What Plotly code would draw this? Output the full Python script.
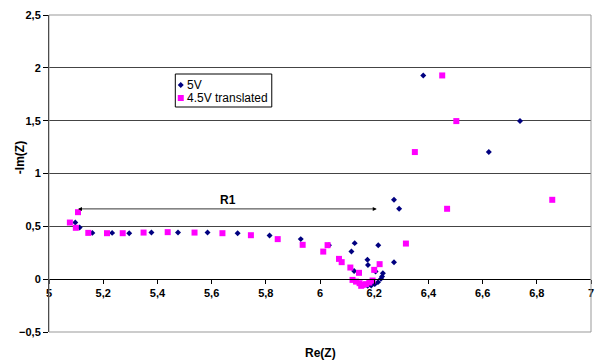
import plotly.graph_objects as go

# 5V series (blue diamonds)
re_5v = [5.097, 5.113, 5.160, 5.233, 5.296, 5.378, 5.476, 5.585, 5.696, 5.814,
         5.929, 6.033, 6.116, 6.128, 6.215, 6.175, 6.177, 6.126, 6.205, 6.232,
         6.229, 6.225, 6.214, 6.202, 6.189, 6.176, 6.273, 6.273, 6.292, 6.381,
         6.623, 6.738]
im_5v = [0.536, 0.489, 0.438, 0.438, 0.435, 0.441, 0.441, 0.441, 0.435, 0.413,
         0.379, 0.322, 0.261, 0.341, 0.322, 0.183, 0.135, 0.078, 0.072, 0.057,
         0.025, 0.003, -0.028, -0.047, -0.060, -0.063, 0.161, 0.751, 0.666, 1.928,
         1.203, 1.496]

# 4.5V translated series (magenta squares)
re_45v = [5.077, 5.099, 5.107, 5.145, 5.214, 5.272, 5.349, 5.438, 5.537, 5.640,
          5.745, 5.844, 5.936, 6.012, 6.028, 6.070, 6.080, 6.112, 6.144, 6.120,
          6.133, 6.146, 6.158, 6.170, 6.182, 6.152, 6.194, 6.200, 6.220, 6.317,
          6.350, 6.451, 6.503, 6.469, 6.857]
im_45v = [0.536, 0.486, 0.634, 0.438, 0.435, 0.435, 0.441, 0.445, 0.441, 0.435,
          0.416, 0.379, 0.325, 0.261, 0.322, 0.192, 0.161, 0.110, 0.060, -0.007,
          -0.023, -0.038, -0.054, -0.047, -0.032, -0.063, -0.013, 0.088, 0.142, 0.337,
          1.203, 1.928, 1.496, 0.666, 0.751]

series_names = ["5V", "4.5V translated"]
series_colors = ["#000080", "#FF00FF"]

# R1 arrow endpoints
r1_x = [5.107, 6.215]
r1_y = 0.665

x_ticks = [5, 5.2, 5.4, 5.6, 5.8, 6, 6.2, 6.4, 6.6, 6.8, 7]
y_ticks = [-0.5, 0, 0.5, 1, 1.5, 2, 2.5]

FONT = "Arial, Liberation Sans, sans-serif"

# plot area geometry in pixels
W, H = 596, 360
ML, MR, MT, MB = 49, 2, 15, 28
PW, PH = W - ML - MR, H - MT - MB


def px_to_paper(px, py):
    return (px - ML) / PW, (H - MB - py) / PH


fig = go.Figure()
fig.add_trace(go.Scatter(
    x=re_5v, y=im_5v, mode="markers", name=series_names[0],
    marker=dict(symbol="diamond", size=4.6, color=series_colors[0]),
))
fig.add_trace(go.Scatter(
    x=re_45v, y=im_45v, mode="markers", name=series_names[1],
    marker=dict(symbol="square", size=6, color=series_colors[1]),
))

# R1 double arrow
fig.add_annotation(
    x=r1_x[0], y=r1_y, ax=r1_x[1], ay=r1_y, xref="x", yref="y", axref="x", ayref="y",
    text="", showarrow=True, arrowhead=2, arrowside="end+start", arrowsize=1,
    arrowwidth=0.8, arrowcolor="black",
)
fig.add_annotation(
    x=(r1_x[0] + r1_x[1]) / 2, y=r1_y, xref="x", yref="y", text="<b>R1</b>",
    showarrow=False, yshift=9, font=dict(family=FONT, size=12, color="black"),
)

# axis titles
fig.add_annotation(
    x=0.5, y=0, xref="paper", yref="paper", yshift=-21, yanchor="middle",
    text="<b>Re(Z)</b>", showarrow=False, font=dict(family=FONT, size=12, color="black"),
)
tx, ty = px_to_paper(20, 158)
fig.add_annotation(
    x=tx, y=ty, xref="paper", yref="paper", xanchor="center", yanchor="middle",
    text="<b>-Im(Z)</b>", textangle=-90, showarrow=False,
    font=dict(family=FONT, size=12, color="black"),
)

# plot area border
fig.add_shape(type="rect", xref="paper", yref="paper", x0=0, y0=0, x1=1, y1=1,
              line=dict(color="#999999", width=1), layer="above")

# custom legend (box, symbols, texts)
bx0, by0 = px_to_paper(176, 107)
bx1, by1 = px_to_paper(273, 74)
fig.add_shape(type="rect", xref="paper", yref="paper", x0=bx0, y0=by0, x1=bx1, y1=by1,
              line=dict(color="black", width=1), fillcolor="white", layer="above")
legend_rows = [85, 98]
sym_paths = ["M0,3 L3,0 L0,-3 L-3,0 Z", "M-3,-3 L3,-3 L3,3 L-3,3 Z"]
for name, color, row, path in zip(series_names, series_colors, legend_rows, sym_paths):
    sx, sy = px_to_paper(181.5, row)
    fig.add_shape(type="path", xref="paper", yref="paper", xsizemode="pixel",
                  ysizemode="pixel", xanchor=sx, yanchor=sy, path=path,
                  fillcolor=color, line=dict(color=color, width=0), layer="above")
    lx, ly = px_to_paper(186, row)
    fig.add_annotation(x=lx, y=ly, xref="paper", yref="paper", xanchor="left",
                       yanchor="middle", text=name, showarrow=False,
                       font=dict(family=FONT, size=12, color="black"))

fig.update_layout(
    width=W, height=H,
    margin=dict(l=ML, r=MR, t=MT, b=MB),
    plot_bgcolor="white", paper_bgcolor="white",
    separators=",.",
    font=dict(family=FONT, size=11, color="black"),
    showlegend=False,
    xaxis=dict(
        range=[5, 7], tickvals=x_ticks, showgrid=False, zeroline=False,
        anchor="free", position=1/6, showline=True, linecolor="black", linewidth=1,
        ticks="outside", ticklen=4, tickcolor="black", ticklabeloverflow="allow",
        tickfont=dict(family=FONT, size=11, color="black", weight="bold"),
    ),
    yaxis=dict(
        range=[-0.5, 2.5], tickvals=y_ticks, showgrid=True, gridcolor="#444444",
        gridwidth=1, zeroline=False, showline=True, linecolor="black", linewidth=1,
        ticks="outside", ticklen=5, tickcolor="black",
        tickfont=dict(family=FONT, size=11, color="black", weight="bold"),
    ),
)

fig.write_html("out.html")
